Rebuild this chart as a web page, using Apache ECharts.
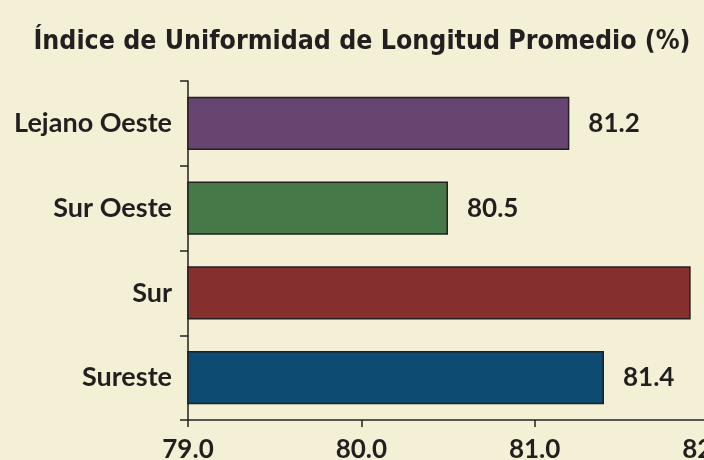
<!DOCTYPE html>
<html>
<head>
<meta charset="utf-8">
<script src="https://cdn.jsdelivr.net/npm/echarts@6/dist/echarts.min.js"></script>
<style>
  html, body { margin: 0; padding: 0; background: #f4f0d5; }
  #chart { width: 704px; height: 460px; }
</style>
</head>
<body>
<div id="chart"></div>
<script>
// regions, bottom to top as drawn on the category axis
const regions = ["Sureste", "Sur", "Sur Oeste", "Lejano Oeste"];
const values = [81.4, 81.9, 80.5, 81.2];
const barColors = ["#0d4b73", "#852f2f", "#477848", "#674571"];

const ink = "#231f20";
const labelFont = "Lato, 'Noto Sans', sans-serif";

const chart = echarts.init(document.getElementById("chart"));
chart.setOption({
  backgroundColor: "#f4f0d5",
  animation: false,
  title: {
    text: "Índice de Uniformidad de Longitud Promedio (%)",
    left: 357,
    textAlign: "center",
    top: 24,
    textStyle: {
      fontFamily: "'Liberation Sans Narrow', 'DejaVu Sans Condensed', sans-serif",
      fontWeight: "bold",
      fontSize: 26.5,
      color: ink
    }
  },
  grid: {
    left: 188, right: -4, top: 81, bottom: 40,
    containLabel: false,
    outerBoundsMode: "none"
  },
  xAxis: {
    type: "value",
    min: 79,
    max: 82,
    interval: 1,
    splitLine: { show: false },
    axisLine: { show: true, lineStyle: { color: ink, width: 1.5 } },
    axisTick: { show: true, length: 7, lineStyle: { color: ink, width: 1.5 } },
    axisLabel: {
      margin: 17,
      fontFamily: labelFont,
      fontWeight: "bold",
      fontSize: 26,
      color: ink,
      formatter: v => v.toFixed(1)
    }
  },
  yAxis: {
    type: "category",
    data: regions,
    axisLine: { show: true, lineStyle: { color: ink, width: 1.5 } },
    axisTick: { show: true, length: 8, lineStyle: { color: ink, width: 1.5 } },
    axisLabel: {
      margin: 16,
      fontFamily: labelFont,
      fontWeight: "bold",
      fontSize: 27,
      color: ink
    }
  },
  series: [{
    type: "bar",
    data: values.map((v, i) => ({ value: v, itemStyle: { color: barColors[i] } })),
    barCategoryGap: "37%",
    itemStyle: { borderColor: ink, borderWidth: 1.5 },
    label: {
      show: true,
      position: "right",
      distance: 19,
      fontFamily: labelFont,
      fontWeight: "bold",
      fontSize: 26,
      color: ink,
      formatter: p => p.value.toFixed(1)
    }
  }]
});
</script>
</body>
</html>
